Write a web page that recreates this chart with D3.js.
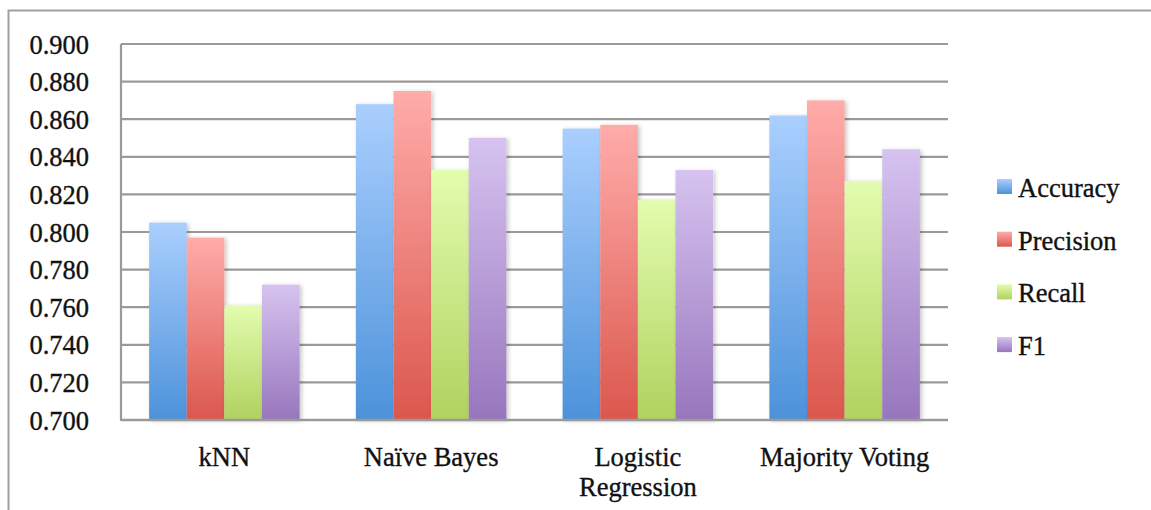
<!DOCTYPE html>
<html>
<head>
<meta charset="utf-8">
<script src="https://cdn.jsdelivr.net/npm/d3@7"></script>
<style>
  html, body { margin: 0; padding: 0; background: #fff; }
  svg { display: block; }
  svg text { font-family: "Liberation Serif", serif; fill: #111; stroke: #111; stroke-width: 0.35px; }
</style>
</head>
<body>
<svg id="chart" width="1151" height="510"></svg>
<script>
// Classifier scores per metric
const categories = ["kNN", "Naïve Bayes", "Logistic Regression", "Majority Voting"];
const categoryLines = [["kNN"], ["Naïve Bayes"], ["Logistic", "Regression"], ["Majority Voting"]];
const seriesNames = ["Accuracy", "Precision", "Recall", "F1"];
const accuracy  = [0.805, 0.868, 0.855, 0.862];
const precision = [0.797, 0.875, 0.857, 0.870];
const recall    = [0.761, 0.833, 0.817, 0.827];
const f1        = [0.772, 0.850, 0.833, 0.844];
const seriesValues = [accuracy, precision, recall, f1];
const yTicks = [0.700, 0.720, 0.740, 0.760, 0.780, 0.800, 0.820, 0.840, 0.860, 0.880, 0.900];

// Gradient stops (top, bottom) for each series
const seriesColors = [
  ["#aacffe", "#4c92da"],
  ["#ffacaa", "#db574d"],
  ["#e3fcaf", "#b0d25e"],
  ["#d6c3f0", "#9876bd"]
];

const FONT = 26.5;
const svg = d3.select("#chart");
const plot = { left: 121, right: 948, top: 44, bottom: 420 };

const x0 = d3.scaleBand().domain(categories).range([plot.left, plot.right]).paddingInner(0.272).paddingOuter(0.136);
const x1 = d3.scaleBand().domain(seriesNames).range([0, x0.bandwidth()]);
const y = d3.scaleLinear().domain([0.7, 0.9]).range([plot.bottom, plot.top]);

const defs = svg.append("defs");
seriesNames.forEach((s, i) => {
  const g = defs.append("linearGradient").attr("id", "grad" + i)
    .attr("x1", 0).attr("y1", 0).attr("x2", 0).attr("y2", 1);
  g.append("stop").attr("offset", "0%").attr("stop-color", seriesColors[i][0]);
  g.append("stop").attr("offset", "100%").attr("stop-color", seriesColors[i][1]);
});
const f = defs.append("filter").attr("id", "shadow").attr("x", "-20%").attr("y", "-5%").attr("width", "150%").attr("height", "115%");
f.append("feDropShadow").attr("dx", 2).attr("dy", 1).attr("stdDeviation", 2).attr("flood-color", "#000").attr("flood-opacity", 0.22);

// Outer frame (top and left edges)
svg.append("path").attr("d", "M8.5,510 L8.5,10.5 L1151,10.5")
  .attr("fill", "none").attr("stroke", "#a0a0a0").attr("stroke-width", 2);

// Gridlines
svg.append("g").selectAll("line").data(yTicks.slice(1)).join("line")
  .attr("x1", plot.left).attr("x2", plot.right)
  .attr("y1", d => y(d)).attr("y2", d => y(d))
  .attr("stroke", "#9a9a9a").attr("stroke-width", 2.2);

// Y axis labels
const yAxis = d3.axisLeft(y).tickValues(yTicks).tickFormat(d3.format(".3f")).tickSize(0).tickPadding(32);
const ya = svg.append("g").attr("transform", `translate(${plot.left},0)`).call(yAxis)
  .attr("font-family", null).attr("font-size", null);
ya.select(".domain").remove();
ya.selectAll("text").style("font-size", FONT + "px").style("font-family", "'Liberation Serif', serif")
  .attr("dy", "0.34em");

// Bars
const groups = svg.append("g").selectAll("g").data(categories).join("g")
  .attr("transform", d => `translate(${x0(d)},0)`);
groups.selectAll("rect").data((c, ci) => seriesNames.map((s, si) => ({ s, si, v: seriesValues[si][ci] })))
  .join("rect")
  .attr("x", d => x1(d.s))
  .attr("width", x1.bandwidth())
  .attr("y", d => y(d.v))
  .attr("height", d => y(0.7) - y(d.v))
  .attr("fill", d => `url(#grad${d.si})`)
  .attr("filter", "url(#shadow)");

// Axis lines
svg.append("line").attr("x1", plot.left).attr("x2", plot.left).attr("y1", plot.top).attr("y2", plot.bottom + 1)
  .attr("stroke", "#9a9a9a").attr("stroke-width", 2.2);
svg.append("line").attr("x1", plot.left).attr("x2", plot.right).attr("y1", plot.bottom).attr("y2", plot.bottom)
  .attr("stroke", "#9a9a9a").attr("stroke-width", 2.5);

// Category labels
const catText = svg.append("g").selectAll("text").data(categories).join("text")
  .attr("text-anchor", "middle")
  .style("font-size", FONT + "px")
  .attr("x", d => x0(d) + x0.bandwidth() / 2)
  .attr("y", 466);
catText.each(function (d, i) {
  d3.select(this).selectAll("tspan").data(categoryLines[i]).join("tspan")
    .attr("x", x0(d) + x0.bandwidth() / 2)
    .attr("dy", (t, j) => j === 0 ? 0 : 30)
    .text(t => t);
});

// Legend
const legend = svg.append("g").selectAll("g").data(seriesNames).join("g")
  .attr("transform", (d, i) => `translate(997,${187 + i * 52.7})`);
legend.append("rect").attr("x", 0).attr("y", -8).attr("width", 15).attr("height", 15)
  .attr("fill", (d, i) => `url(#grad${i})`);
legend.append("text").attr("x", 21).attr("y", 10).style("font-size", FONT + "px").text(d => d);
</script>
</body>
</html>
